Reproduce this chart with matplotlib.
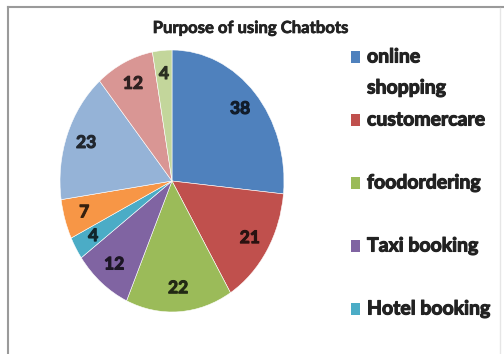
import numpy as np
import matplotlib
matplotlib.use("Agg")
import matplotlib.pyplot as plt
import matplotlib.patheffects as pe
from matplotlib import font_manager
from matplotlib.patches import Rectangle
from matplotlib.colors import to_rgb

# slice values, clockwise from 12 o'clock
values = [38, 21, 22, 12, 4, 7, 23, 12, 4]
slice_colors = ["#4F81BD", "#C0504D", "#9BBB59", "#8064A2", "#4BACC6",
                "#F79646", "#95B3D7", "#D99694", "#C3D69B"]
# only the first five entries fit in the legend box
legend_labels = [["online", "shopping"], ["customercare"], ["foodordering"],
                 ["Taxi booking"], ["Hotel booking"]]
title = "Purpose of using Chatbots"


def bold_family():
    # first candidate that actually ships a bold face
    for fam in ["Lato", "Open Sans", "Noto Sans", "Liberation Sans"]:
        try:
            path = font_manager.findfont(
                font_manager.FontProperties(family=fam, weight="bold"),
                fallback_to_default=False)
        except Exception:
            continue
        if "bold" in path.lower() or "black" in path.lower():
            return fam
    return "DejaVu Sans"


def heavy(color, w=0.7):
    # thicken the strokes a little, the glyphs read as extra bold
    return [pe.withStroke(linewidth=w, foreground=color)]


plt.rcParams["font.family"] = [bold_family(), "DejaVu Sans"]

W, H = 504, 354
fig = plt.figure(figsize=(W / 100, H / 100), dpi=100)
fig.patch.set_facecolor("white")

# pie axes: unit circle maps onto a slightly tall ellipse
cx, cy, rx, ry = 172, 181, 112, 131
ax = fig.add_axes([(cx - rx) / W, (H - cy - ry) / H, 2 * rx / W, 2 * ry / H])

total = sum(values)
wedges, _, autotexts = ax.pie(
    values, colors=slice_colors, startangle=90, counterclock=False,
    autopct=lambda p: f"{int(round(p * total / 100))}",
    pctdistance=0.82, radius=1.0,
    wedgeprops=dict(edgecolor="white", linewidth=0.4),
)
ax.set_aspect("auto")
ax.set_xlim(-1, 1)
ax.set_ylim(-1, 1)

# value labels in a dark shade of their slice colour
for t, c in zip(autotexts, slice_colors):
    dark = tuple(np.array(to_rgb(c)) * 0.22)
    t.set_color(dark)
    t.set_fontsize(12.5)
    t.set_fontweight("bold")
    t.set_path_effects(heavy(dark, 0.8))

fig.text(250 / W, 1 - 28 / H, title, ha="center", va="center",
         fontsize=12, fontweight="bold", color="#222222",
         path_effects=heavy("#222222", 0.5))

# legend, entries spread evenly down the right side
top_y, step, line_h = 57, 63, 31
for i, (lines, c) in enumerate(zip(legend_labels, slice_colors)):
    y = top_y + i * step
    fig.patches.append(Rectangle((351 / W, 1 - (y + 6) / H), 9 / W, 12 / H,
                                 transform=fig.transFigure, facecolor=c,
                                 edgecolor="none"))
    for j, line in enumerate(lines):
        fig.text(367 / W, 1 - (y + j * line_h) / H, line, ha="left",
                 va="center", fontsize=14, fontweight="bold",
                 color="#222222", path_effects=heavy("#222222", 0.8))

# chart frame
fig.add_artist(plt.Line2D([8 / W, 8 / W], [0, 1 - 7 / H], color="#9a9a9a",
                          linewidth=1.5, transform=fig.transFigure))
fig.add_artist(plt.Line2D([8 / W, 1], [1 - 7 / H, 1 - 7 / H], color="#9a9a9a",
                          linewidth=1.5, transform=fig.transFigure))
fig.add_artist(plt.Line2D([500 / W, 500 / W], [0, 1 - 8 / H], color="#e6e6e6",
                          linewidth=1.0, transform=fig.transFigure))

fig.savefig("out.png", dpi=100)
